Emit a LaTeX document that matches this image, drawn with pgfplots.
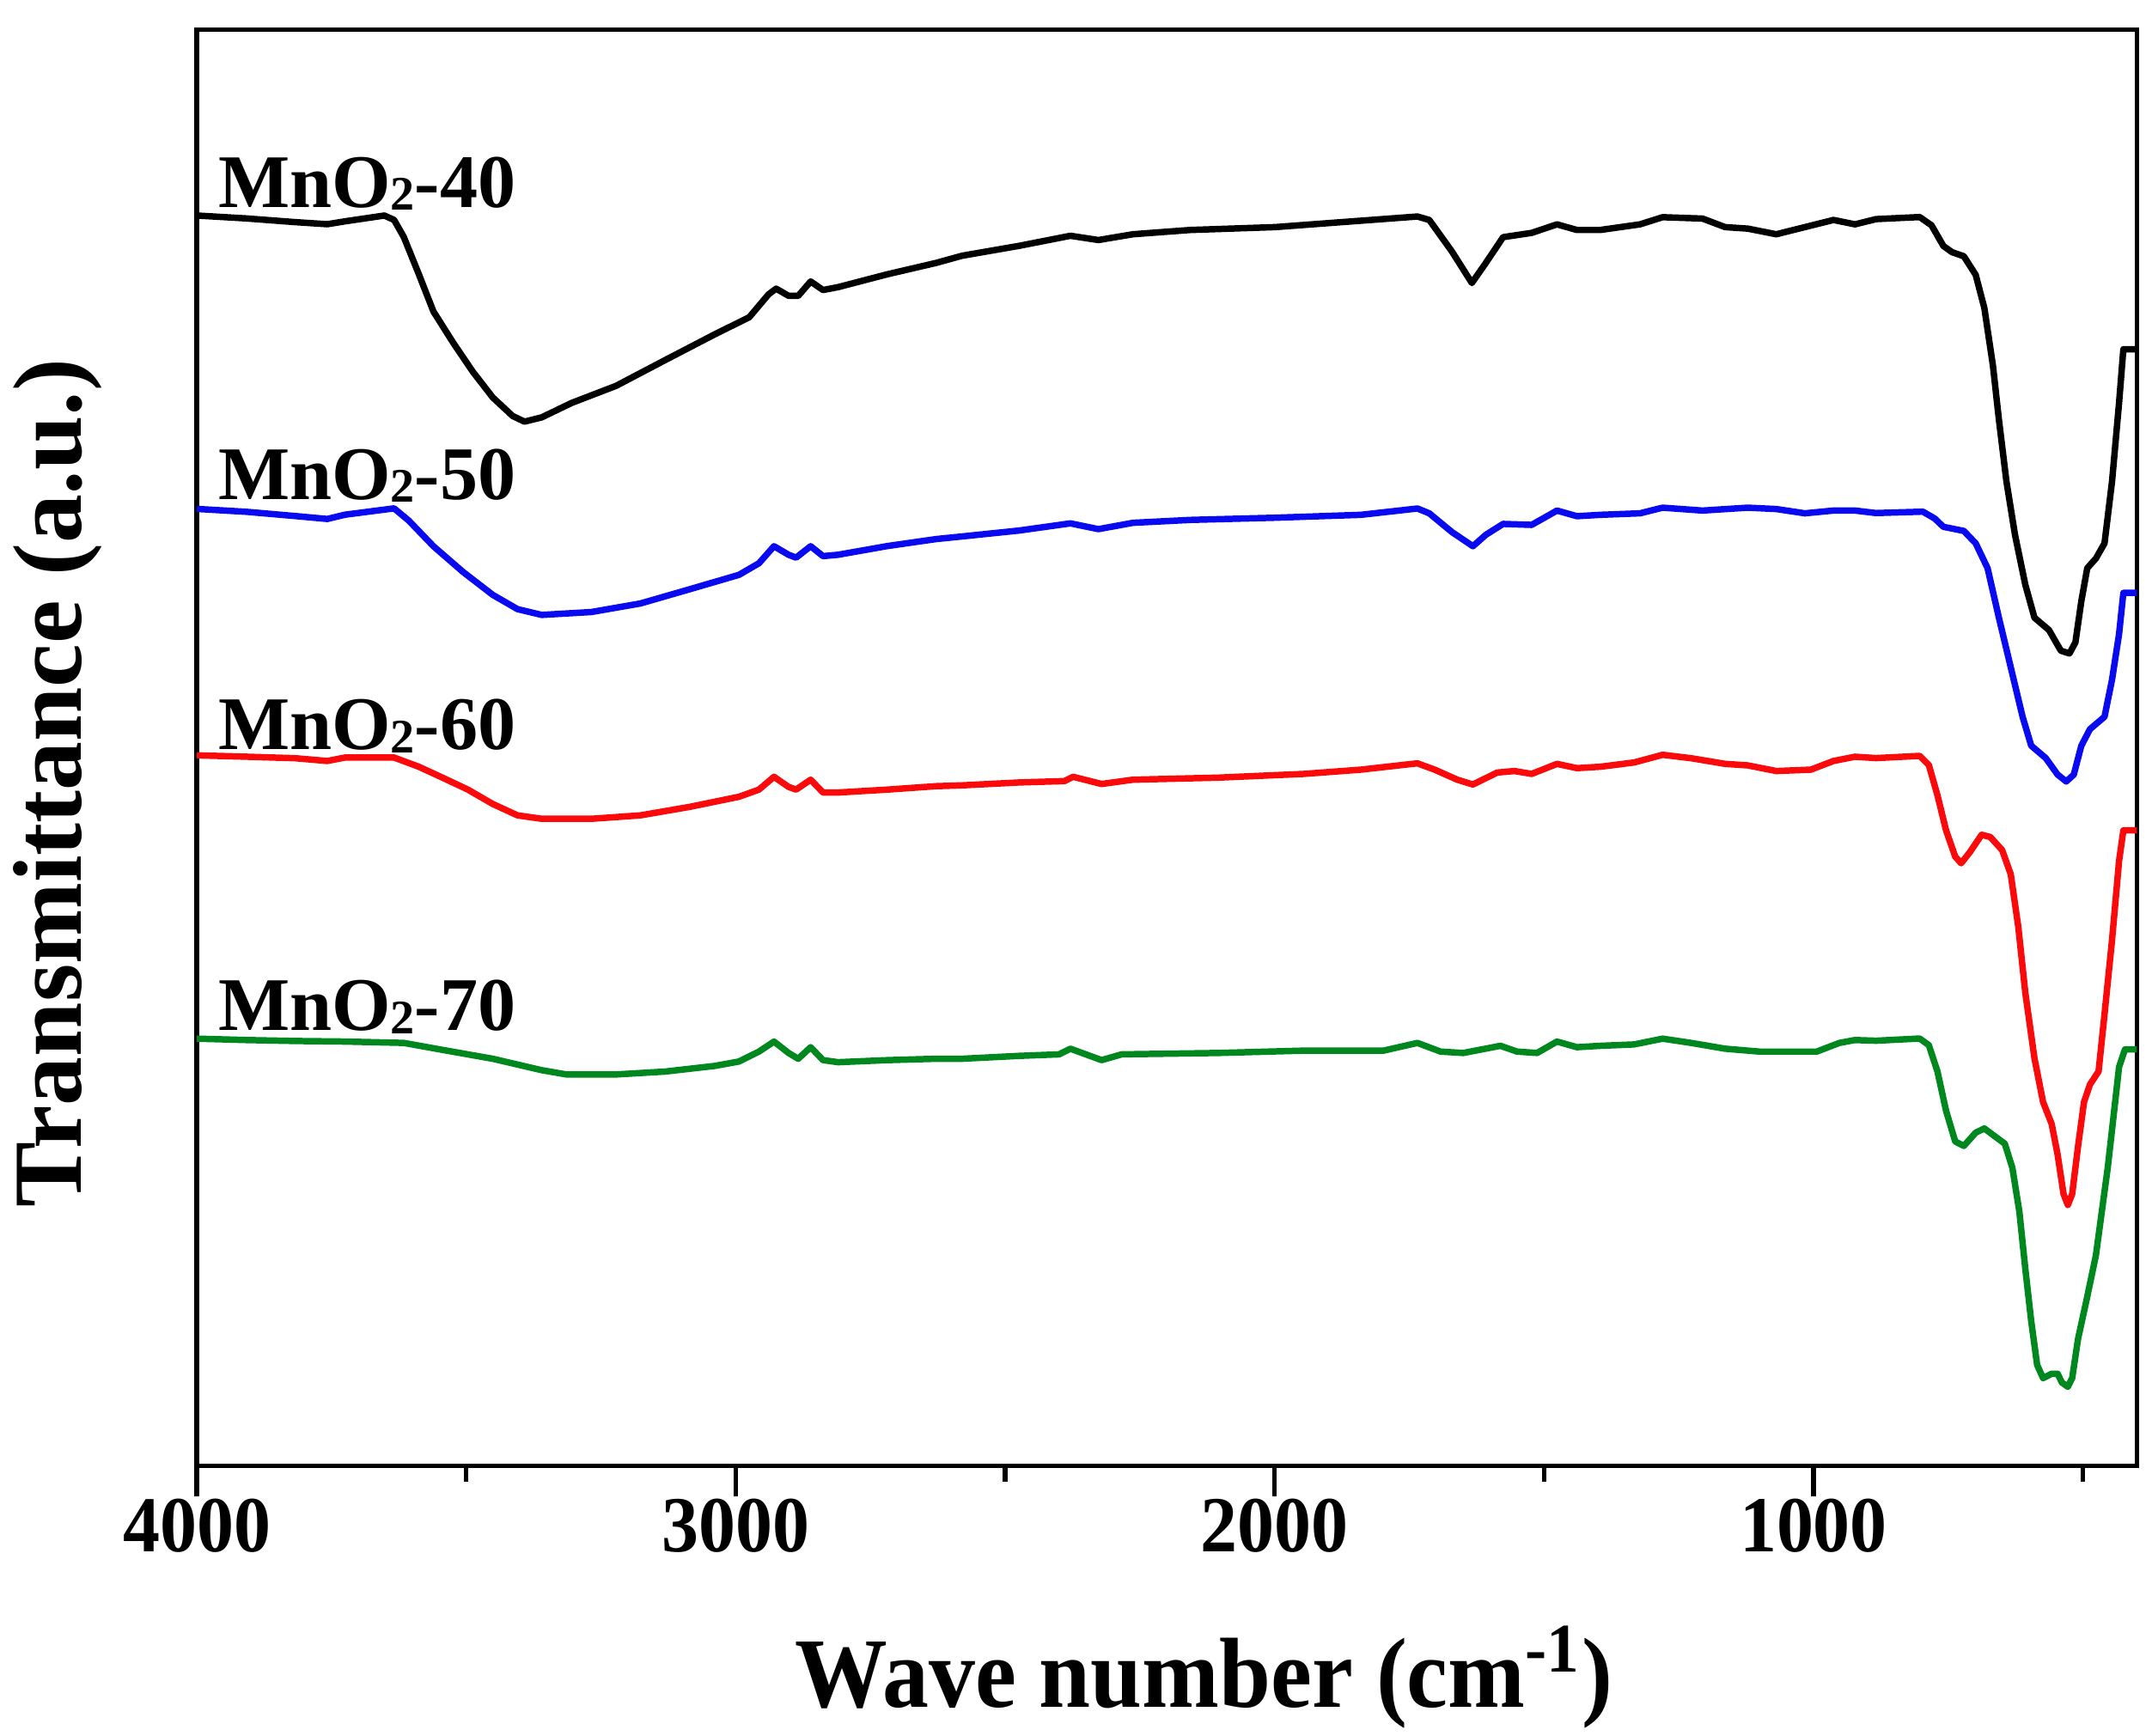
\documentclass[border=0pt]{standalone}
\usepackage{fontspec}
\setmainfont{Liberation Serif}
\usepackage{graphicx}
\usepackage{pgfplots}
\pgfplotsset{compat=1.18}
\definecolor{cblue}{RGB}{10,10,240}
\definecolor{cred}{RGB}{250,10,10}
\definecolor{cgreen}{RGB}{0,135,30}
\newcommand\condx[1]{\scalebox{0.93}[1]{#1}}
\newcommand\sub[1]{\raisebox{-0.6pt}{\fontsize{10.5}{10.5}\selectfont #1}}
\begin{document}
\begin{tikzpicture}
\useasboundingbox (-42.9pt,-58.8pt) rectangle (426pt,319.4pt);
\begin{axis}[
  scale only axis, width=422.7pt, height=312.9pt,
  at={(0pt,0pt)}, anchor=south west,
  x dir=reverse, xmin=400, xmax=4000, ymin=0, ymax=1043,
  xtick={1000,2000,3000,4000}, minor xtick={500,1500,2500,3500},
  ytick=\empty, xtick pos=bottom,
  tick align=outside,
  major tick length=6.7pt, minor tick length=3.4pt,
  axis line style={line width=1pt},
  every tick/.style={line width=1pt, black},
  /pgf/number format/assume math mode=true,
  /pgf/number format/1000 sep={},
  xticklabel={\condx{\pgfmathprintnumber{\tick}}},
  xticklabel style={font=\fontsize{17.3}{17.3}\selectfont\bfseries, anchor=base, yshift=-12pt},
  xlabel={\condx{Wave number (cm\textsuperscript{-1})}},
  xlabel style={font=\fontsize{21.7}{22}\selectfont\bfseries, at={(axis description cs:0.519,-0.168)}, anchor=base},
  ylabel={Transmittance (a.u.)},
  ylabel style={font=\fontsize{21.3}{22}\selectfont\bfseries, at={(axis description cs:-0.0717,0.4755)}, anchor=center},
  every axis plot/.append style={line width=1.4pt, line join=round},
]
% MnO2-40
\addplot[black] coordinates {
(4000,908.1)(3908,906)(3817,903.3)(3758,901.8)(3725,903.9)(3652,908.1)(3634,904.9)(3616,892.5)(3588,865.4)(3561,838.4)(3524,815.5)(3488,794.7)(3451,776)(3414,762.5)(3392,758.4)(3360,761.5)(3305,771.9)(3222,784.4)(3131,803.1)(3039,821.8)(2975,834.2)(2939,850.9)(2925,855)(2902,849.8)(2884,849.8)(2861,860.2)(2838,854)(2810,856.1)(2719,865.4)(2628,873.7)(2580,878.9)(2474,886.1)(2379,893.4)(2327,890.3)(2263,894.5)(2157,897.6)(1999,899.7)(1893,902.8)(1735,907.4)(1713,904.9)(1671,882)(1634,859.1)(1608,873.7)(1576,892.4)(1523,895.5)(1476,901.7)(1439,897.6)(1396,897.6)(1322,901.7)(1280,906.9)(1206,905.9)(1164,899.7)(1122,898.6)(1069,894.5)(1016,899.7)(963,904.9)(923,901.7)(884,905.5)(803,907)(781,901)(759,886)(743,881.5)(721,878.5)(699,865)(683,841)(667,799)(656,760)(642,715)(626,676)(607,640)(590,616)(563,607)(541,592)(525,590)(514,598)(503,628)(492,652)(476,659)(460,670)(446,715)(433,772)(425,811)(400,811)
};
% MnO2-50
\addplot[cblue] coordinates {
(4000,695)(3908,692.9)(3817,689.8)(3758,687.7)(3725,690.8)(3634,695.4)(3607,686.6)(3561,667.9)(3506,649.2)(3451,632.6)(3405,622.2)(3360,618)(3268,620.1)(3177,626.3)(3085,636.7)(2994,647.1)(2957,655.5)(2929,667.9)(2902,661.7)(2888,659.6)(2861,667.9)(2838,660.7)(2810,661.7)(2719,668)(2628,673.1)(2580,675)(2474,679.3)(2379,684.5)(2327,680.3)(2263,684.9)(2157,687)(1999,688.6)(1840,690.7)(1735,695.3)(1713,691.8)(1671,678.2)(1632,667.9)(1608,676.2)(1576,684.1)(1523,683.4)(1476,693.8)(1439,689.7)(1396,690.7)(1322,691.8)(1280,695.9)(1206,693.8)(1122,695.9)(1069,694.9)(1016,691.8)(963,693.8)(923,693.8)(884,692)(797,693)(775,688)(759,682)(721,679)(699,670)(677,652)(656,616)(634,580)(612,544)(596,523)(569,514)(547,502)(531,497)(517,502)(503,523)(487,535)(460,544)(446,571)(433,604)(425,634)(400,634)
};
% MnO2-60
\addplot[cred] coordinates {
(4000,516)(3908,515)(3817,513.9)(3758,511.9)(3725,514.4)(3634,514.4)(3588,507.7)(3542,499.4)(3497,491.1)(3451,480.7)(3405,472.4)(3360,469.9)(3268,469.9)(3177,472.4)(3085,478.6)(2994,485.9)(2957,491.1)(2929,500.4)(2902,493.1)(2888,491.1)(2861,498.3)(2838,489)(2810,489)(2719,491.1)(2628,493.6)(2580,494.2)(2474,496.3)(2390,497.3)(2374,500.4)(2321,495.2)(2263,498.3)(2105,499.8)(1946,502.5)(1840,505.6)(1735,510.2)(1703,505.6)(1661,498.3)(1632,494.8)(1587,503.5)(1555,504.6)(1523,502.5)(1476,509.8)(1439,506.7)(1396,507.7)(1333,510.8)(1280,516.4)(1227,513.9)(1164,509.8)(1122,508.7)(1069,504.6)(1005,505.6)(963,511.9)(923,515)(884,514)(803,515.6)(786,509)(770,487)(754,461.5)(737,442.4)(726,437.6)(710,445.6)(688,458.3)(672,456.7)(650,447.2)(634,429.7)(620,391.5)(607,343.7)(590,296)(574,264.2)(558,248.2)(547,226)(536,197.3)(528,189.4)(520,197.3)(509,232.3)(498,264.2)(487,276.9)(471,286.4)(460,327.8)(446,381.9)(433,439.2)(425,461.5)(400,461.5)
};
% MnO2-70
\addplot[cgreen] coordinates {
(4000,310.2)(3908,309.2)(3817,308.5)(3725,308.1)(3616,307.1)(3542,301.9)(3451,295.6)(3360,287.3)(3314,284.2)(3222,284.2)(3131,286.3)(3039,290.4)(2994,293.6)(2957,300.8)(2929,308.1)(2902,299.8)(2884,295.6)(2861,304)(2838,294.6)(2810,293.1)(2719,294.6)(2628,295.6)(2580,295.6)(2474,297.7)(2400,298.8)(2379,302.9)(2321,294.6)(2284,298.8)(2105,299.8)(1946,301.5)(1798,301.5)(1735,307.1)(1692,300.8)(1650,299.8)(1581,305)(1550,300.8)(1513,299.8)(1476,308.1)(1439,304)(1396,305)(1333,306)(1280,310.2)(1227,307.1)(1164,302.9)(1100,300.8)(994,300.8)(952,307.1)(923,309.2)(884,308.7)(803,310.3)(786,305.5)(770,286.4)(754,257.8)(737,235.5)(721,232.3)(699,241.9)(683,245)(667,240.3)(645,233.9)(631,216.4)(618,184.6)(607,143.2)(596,105)(585,73.2)(574,63.6)(558,66.8)(547,66.8)(539,60.4)(528,57.3)(520,63.6)(509,92.3)(493,121)(476,152.7)(465,184.6)(454,216.4)(443,254.6)(433,289.6)(422,302.4)(400,302.4)
};
\node[anchor=base west, inner sep=0pt, font=\fontsize{16.5}{16.5}\selectfont\bfseries] at (axis cs:3962,914) {MnO\sub{2}-40};
\node[anchor=base west, inner sep=0pt, font=\fontsize{16.5}{16.5}\selectfont\bfseries] at (axis cs:3962,702) {MnO\sub{2}-50};
\node[anchor=base west, inner sep=0pt, font=\fontsize{16.5}{16.5}\selectfont\bfseries] at (axis cs:3962,520) {MnO\sub{2}-60};
\node[anchor=base west, inner sep=0pt, font=\fontsize{16.5}{16.5}\selectfont\bfseries] at (axis cs:3962,316) {MnO\sub{2}-70};
\end{axis}
\end{tikzpicture}
\end{document}
